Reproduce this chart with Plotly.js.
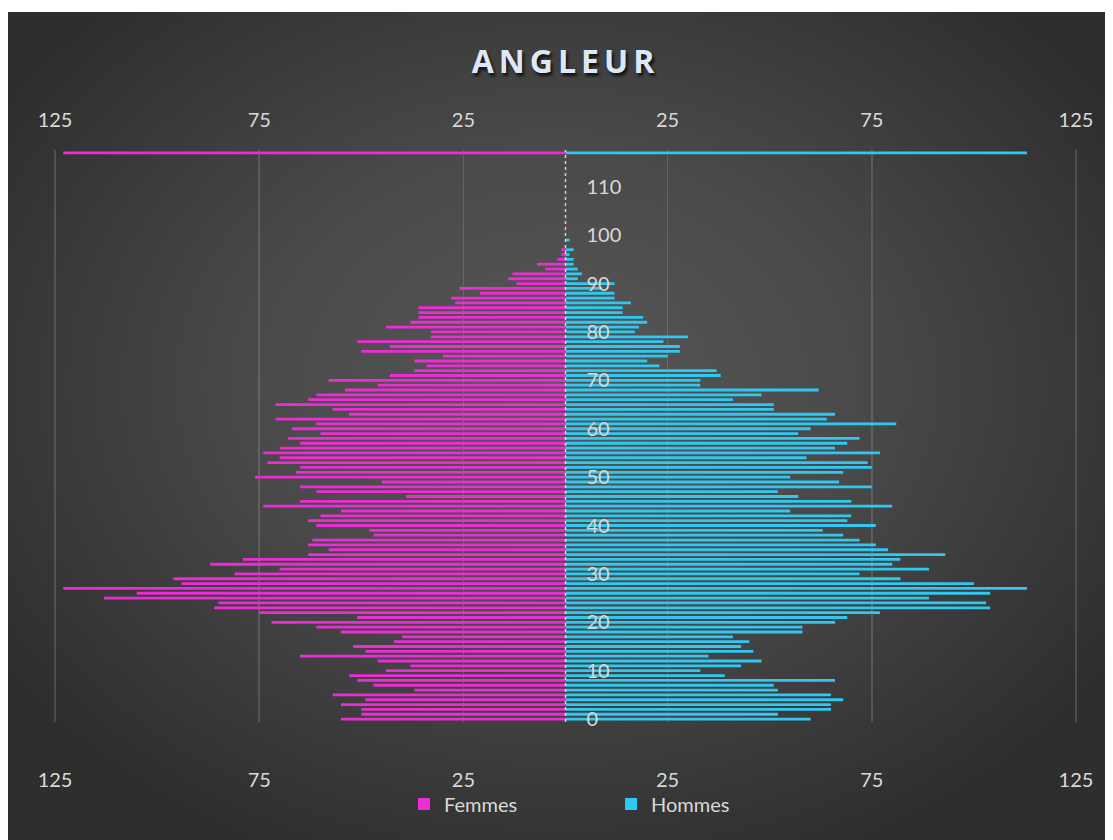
<!DOCTYPE html>
<html>
<head>
<meta charset="utf-8">
<script src="https://cdn.plot.ly/plotly-3.0.1.min.js"></script>
<style>
  html, body { margin:0; padding:0; background:#ffffff; }
  #bg { position:absolute; left:8px; top:12px; width:1097px; height:828px;
        background: radial-gradient(ellipse 60% 62% at 50% 45%, #575757 0%, #4a4a4a 45%, #383838 80%, #2e2e2e 100%); }
  #chart { position:absolute; left:0; top:0; width:1113px; height:840px; }
  .gtitle { letter-spacing: 5px; }
</style>
</head>
<body>
<div id="bg"></div>
<div id="chart"></div>
<script>
// Ages 0..100, then the top reference row
const ages = [];
for (let a = 0; a <= 100; a++) ages.push(a);
ages.push(117);

const femmes = [
  55, 50, 50, 55, 49, 57, 37, 47, 51, 53,
  44, 38, 46, 65, 49, 52, 42, 40, 55, 61,
  72, 51, 75, 86, 85, 113, 105, 123, 94, 96,
  81, 70, 87, 79, 63, 58, 63, 62, 47, 48,
  61, 63, 60, 55, 74, 65, 39, 61, 65, 45,
  76, 66, 65, 73, 70, 74, 70, 65, 68, 60,
  67, 61, 71, 53, 57, 71, 63, 61, 54, 46,
  58, 43, 37, 34, 37, 30, 50, 43, 51, 33,
  33, 44, 38, 36, 36, 36, 27, 28, 21, 26,
  12, 14, 13, 5, 7, 2, 1, 1, 0, 0,
  0,
  123
];

const hommes = [
  60, 52, 65, 65, 68, 65, 52, 51, 66, 39,
  33, 43, 48, 35, 46, 43, 45, 41, 58, 58,
  66, 69, 77, 104, 103, 89, 104, 113, 100, 82,
  72, 89, 80, 82, 93, 79, 76, 72, 68, 63,
  76, 69, 70, 55, 80, 70, 57, 52, 75, 67,
  55, 68, 75, 74, 59, 77, 66, 69, 72, 57,
  60, 81, 64, 66, 51, 51, 41, 48, 62, 33,
  33, 38, 37, 23, 20, 25, 28, 28, 24, 30,
  17, 18, 20, 19, 14, 14, 16, 12, 12, 9,
  12, 3, 4, 3, 2, 2, 1, 2, 0, 1,
  0,
  113
];

const xTickVals = [-125, -75, -25, 25, 75, 125];
const xTickText = ['125', '75', '25', '25', '75', '125'];
const yTickVals = [0, 10, 20, 30, 40, 50, 60, 70, 80, 90, 100, 110];

const femColor = '#EC2DD5';
const homColor = '#2EC8F2';
const txtColor = '#d9d9d9';
const fontFam = 'Lato, "Open Sans", sans-serif';

const traces = [
  {
    type: 'bar', orientation: 'h', name: 'Femmes',
    y: ages, x: femmes.map(v => -v),
    width: 0.58,
    marker: { color: femColor, line: { width: 0 } },
    xaxis: 'x', yaxis: 'y', hoverinfo: 'skip'
  },
  {
    type: 'bar', orientation: 'h', name: 'Hommes',
    y: ages, x: hommes,
    width: 0.58,
    marker: { color: homColor, line: { width: 0 } },
    xaxis: 'x2', yaxis: 'y', hoverinfo: 'skip'
  }
];

const tickFont = { family: fontFam, size: 20, color: txtColor };

const layout = {
  width: 1113, height: 840,
  paper_bgcolor: 'rgba(0,0,0,0)',
  plot_bgcolor: 'rgba(0,0,0,0)',
  margin: { l: 53, r: 35, t: 150, b: 118, pad: 0 },
  barmode: 'overlay',
  showlegend: true,
  title: {
    text: 'ANGLEUR',
    x: 0.5, xref: 'paper', xanchor: 'center',
    y: 1 - 62 / 840, yref: 'container', yanchor: 'middle',
    font: { family: '"Open Sans", sans-serif', size: 32, color: '#dce8f6', weight: 700,
            shadow: '2px 3px 3px rgba(0,0,0,0.75)' }
  },
  xaxis: {
    range: [-125.5, 125.5],
    tickvals: xTickVals, ticktext: xTickText,
    showgrid: true, gridcolor: 'rgba(255,255,255,0.14)', gridwidth: 1.5,
    zeroline: false, showline: false, ticks: '',
    ticklabelstandoff: 44,
    tickfont: tickFont, fixedrange: true
  },
  xaxis2: {
    range: [-125.5, 125.5], overlaying: 'x', side: 'top', anchor: 'y',
    tickvals: xTickVals, ticktext: xTickText,
    showgrid: false, zeroline: false, showline: false, ticks: '',
    ticklabelstandoff: 18,
    tickfont: tickFont, fixedrange: true
  },
  yaxis: {
    range: [-0.6, 117.6],
    tickvals: yTickVals,
    anchor: 'free', position: 0.5, side: 'right',
    showgrid: false, zeroline: false, showline: false, ticks: '',
    ticklabelstandoff: 20,
    tickfont: tickFont, fixedrange: true
  },
  shapes: [
    { type: 'line', xref: 'x', yref: 'paper', x0: 0, x1: 0, y0: 0, y1: 1,
      line: { color: 'rgba(235,235,235,0.85)', width: 1.5, dash: 'dot' }, layer: 'above' }
  ],
  legend: {
    orientation: 'h',
    x: (404 - 53) / 1025, xanchor: 'left',
    y: (722 - 804) / 572, yanchor: 'middle',
    entrywidth: 162, entrywidthmode: 'pixels',
    font: { family: fontFam, size: 20, color: txtColor },
    bgcolor: 'rgba(0,0,0,0)'
  }
};

Plotly.newPlot('chart', traces, layout, { displayModeBar: false, staticPlot: true });
</script>
</body>
</html>
